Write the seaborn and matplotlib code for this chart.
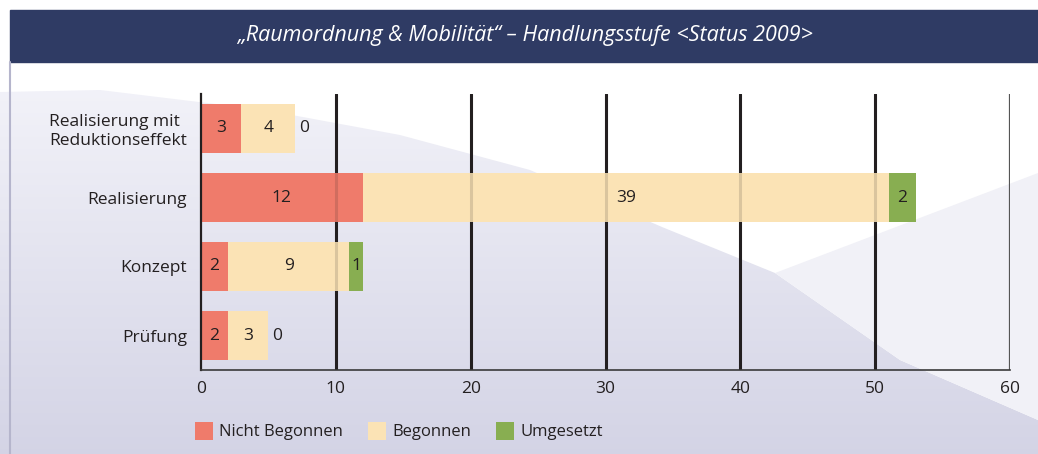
import numpy as np
import pandas as pd
import seaborn as sns
from matplotlib import pyplot as plt
from matplotlib.patches import Rectangle, Polygon, Patch
from matplotlib.lines import Line2D

# data
categories = ["Realisierung mit\nReduktionseffekt", "Realisierung", "Konzept", "Prüfung"]
nicht_begonnen = [3, 12, 2, 2]
begonnen = [4, 39, 9, 3]
umgesetzt = [0, 2, 1, 0]
series = ["Nicht Begonnen", "Begonnen", "Umgesetzt"]
colors = ["#EF7B6B", "#FBE3B5", "#88AE51"]
x_ticks = [0, 10, 20, 30, 40, 50, 60]
title = "„Raumordnung & Mobilität“ – Handlungsstufe <Status 2009>"

sns.set_style("white")
plt.rcParams['font.family'] = ['Open Sans', 'DejaVu Sans']
text_color = "#231f20"

df = pd.DataFrame({"Kategorie": categories,
                   "Nicht Begonnen": nicht_begonnen,
                   "Begonnen": begonnen,
                   "Umgesetzt": umgesetzt})
df["cum1"] = df["Nicht Begonnen"]
df["cum2"] = df["cum1"] + df["Begonnen"]
df["cum3"] = df["cum2"] + df["Umgesetzt"]

fig = plt.figure(figsize=(10.38, 4.54), dpi=100)
fig.patch.set_facecolor("white")

# background decoration (pixel coordinates)
bg = fig.add_axes([0, 0, 1, 1], zorder=-10)
bg.set_xlim(0, 1038)
bg.set_ylim(454, 0)
bg.axis("off")
grad = np.linspace(0, 1, 256).reshape(-1, 1, 1)
c_top = np.array([0.95, 0.95, 0.975])
c_bot = np.array([0.83, 0.83, 0.90])
img = c_top * (1 - grad) + c_bot * grad
hill = Polygon([[0, 92], [100, 90], [265, 110], [400, 135], [530, 170], [662, 227],
                [775, 273], [900, 360], [1038, 420], [1038, 454], [0, 454]],
               closed=True, facecolor="none", edgecolor="none")
bg.add_patch(hill)
im = bg.imshow(img, extent=[0, 1038, 454, 85], aspect="auto", zorder=0)
im.set_clip_path(hill)
right = Polygon([[775, 273], [1038, 173], [1038, 420], [900, 360]], closed=True,
                facecolor="#f1f1f7", edgecolor="none", zorder=1)
bg.add_patch(right)

# title banner
fig.patches.append(Rectangle((10 / 1038, 1 - 62 / 454), 1 - 10 / 1038, 52 / 454,
                             transform=fig.transFigure, color="#2f3b64", zorder=1))
fig.text(0.506, 1 - 36 / 454, title, color="white", fontsize=15.5, style="italic",
         ha="center", va="center")
fig.lines.append(Line2D([10 / 1038, 10 / 1038], [0, 1 - 62 / 454], transform=fig.transFigure,
                        color="#b5b5cc", lw=1.5))

ax = fig.add_axes([201 / 1038, 1 - 370 / 454, 809 / 1038, 276 / 454])
ax.set_facecolor("none")

# stacked bars: draw cumulative totals from largest to smallest
for col, c in zip(["cum3", "cum2", "cum1"], colors[::-1]):
    sns.barplot(data=df, x=col, y="Kategorie", color=c, width=0.71, saturation=1,
                linewidth=0, edgecolor="none", ax=ax, orient="h")

for i, row in df.iterrows():
    starts = [0, row["cum1"], row["cum2"]]
    vals = [row["Nicht Begonnen"], row["Begonnen"], row["Umgesetzt"]]
    for s, v in zip(starts, vals):
        if v > 0:
            ax.text(s + v / 2, i, str(v), ha="center", va="center",
                    fontsize=12.5, color=text_color, zorder=4)
        else:
            ax.text(s + 0.25, i, str(v), ha="left", va="center",
                    fontsize=12.5, color=text_color, zorder=4)

# vertical grid lines (faint overlay where they cross the bars)
for x in x_ticks[1:-1]:
    ax.axvline(x, color=text_color, lw=2.2, zorder=0.5)
    ax.axvline(x, color=text_color, lw=2.2, alpha=0.15, zorder=2.5)
ax.axvline(x_ticks[-1], color="#555555", lw=1.6, zorder=0.5)

ax.set_xlim(x_ticks[0], x_ticks[-1])
ax.set_ylim(len(categories) - 0.5, -0.5)
ax.set_xticks(x_ticks)
ax.set_yticks(np.arange(-0.5, len(categories) - 0.5), minor=True)
ax.tick_params(axis="x", length=0, pad=8, labelsize=12.5, labelcolor=text_color)
ax.tick_params(axis="y", which="major", length=0, pad=10, labelsize=12.5, labelcolor=text_color)
ax.tick_params(axis="y", which="minor", direction="in", length=14, width=1.8, color=text_color)
for lbl in ax.get_yticklabels():
    lbl.set_multialignment("left")
ax.set_xlabel("")
ax.set_ylabel("")
sns.despine(ax=ax, top=True, right=True)
ax.spines["left"].set_color(text_color)
ax.spines["left"].set_linewidth(1.6)
ax.spines["bottom"].set_color("#3a3a3a")
ax.spines["bottom"].set_linewidth(1.2)

handles = [Patch(facecolor=c, edgecolor="none") for c in colors]
fig.legend(handles, series, loc="center left", bbox_to_anchor=(180 / 1038, 1 - 431 / 454),
           ncol=3, frameon=False, fontsize=12, handlelength=1.1, handleheight=1.3,
           handletextpad=0.35, columnspacing=1.5, labelcolor=text_color)

fig.savefig("out.png", dpi=100)
